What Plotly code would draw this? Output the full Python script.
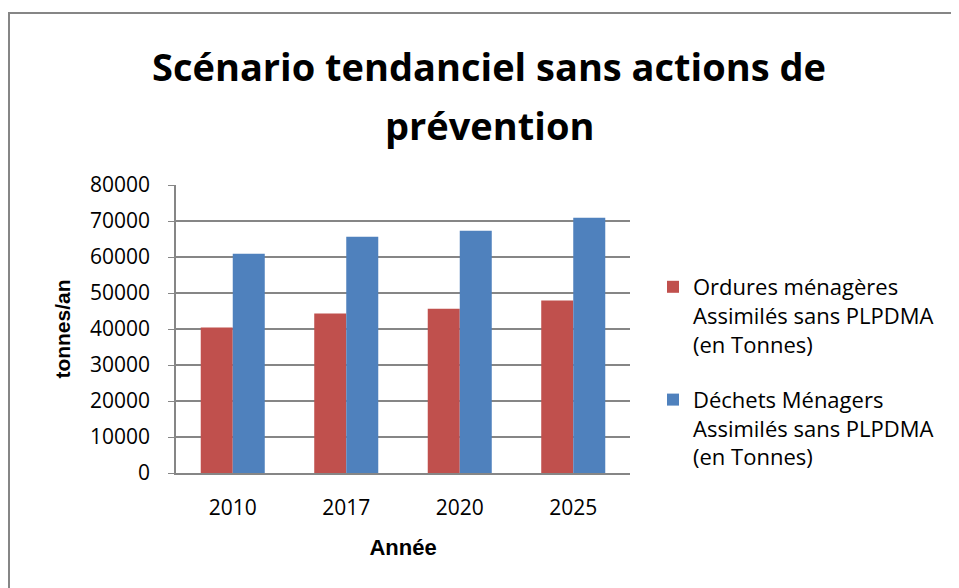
import plotly.graph_objects as go

annees = ["2010", "2017", "2020", "2025"]
om_sans_plpdma = [40400, 44300, 45600, 47900]
dma_sans_plpdma = [60900, 65600, 67300, 70900]

nom_om = "Ordures ménagères<br>Assimilés sans PLPDMA<br>(en Tonnes)"
nom_dma = "Déchets Ménagers<br>Assimilés sans PLPDMA<br>(en Tonnes)"
titre_l1 = "Scénario tendanciel sans actions de"
titre_l2 = "prévention"

rouge = "#C0504D"
bleu = "#4F81BD"
gris = "#868686"

W, H = 951, 580
L, R, T, B = 168, 329, 177, 115
pw, ph = W - L - R, H - T - B

fig = go.Figure()
fig.add_trace(go.Bar(x=annees, y=om_sans_plpdma, name=nom_om, legendgroup="om",
                     marker=dict(color=rouge, line=dict(width=0))))
fig.add_trace(go.Bar(x=annees, y=dma_sans_plpdma, name=nom_dma, legendgroup="dma",
                     marker=dict(color=bleu, line=dict(width=0))))

fig.update_layout(
    width=W, height=H,
    margin=dict(l=L, r=R, t=T, b=B),
    paper_bgcolor="white", plot_bgcolor="white",
    barmode="group", bargap=0.436, bargroupgap=0,
    font=dict(family="Open Sans", size=21, color="black"),
    legend=dict(
        x=(645 - L) / pw, xanchor="left", y=(T + ph - 258) / ph, yanchor="top",
        font=dict(family="Open Sans", size=22, color="black"),
        valign="top", tracegroupgap=24, itemwidth=30, traceorder="grouped",
    ),
    showlegend=True,
)

# titre sur deux lignes (interligne plus grand que celui de plotly)
for txt, yy in [(titre_l1, 58), (titre_l2, 117)]:
    fig.add_annotation(text="<b>%s</b>" % txt, xref="paper", yref="paper",
                       x=(481 - L) / pw, y=(T + ph - yy) / ph,
                       xanchor="center", yanchor="middle", showarrow=False,
                       font=dict(family="Open Sans", size=38, color="black"))

fig.update_xaxes(
    showline=True, linecolor=gris, linewidth=2,
    ticklabelstandoff=15,
    title=dict(text="<b>Année</b>", font=dict(family="Liberation Sans", size=22), standoff=19),
)
fig.update_yaxes(
    range=[0, 80000], dtick=10000, tickformat="d",
    showgrid=True, gridcolor=gris, gridwidth=1.5,
    showline=True, linecolor=gris, linewidth=1.5,
    ticks="outside", ticklen=6, tickcolor=gris, ticklabelstandoff=14,
    title=dict(text="<b>tonnes/an</b>", font=dict(family="Liberation Sans", size=21), standoff=14),
)

# cadre gris autour du graphique
fig.add_shape(type="rect", xref="paper", yref="paper",
              x0=-(L - 1) / pw, x1=(W + 20 - L) / pw,
              y0=-(B + 20) / ph, y1=(ph + T - 5) / ph,
              line=dict(color=gris, width=2), fillcolor="rgba(0,0,0,0)", layer="below")

fig.write_html("out.html")
